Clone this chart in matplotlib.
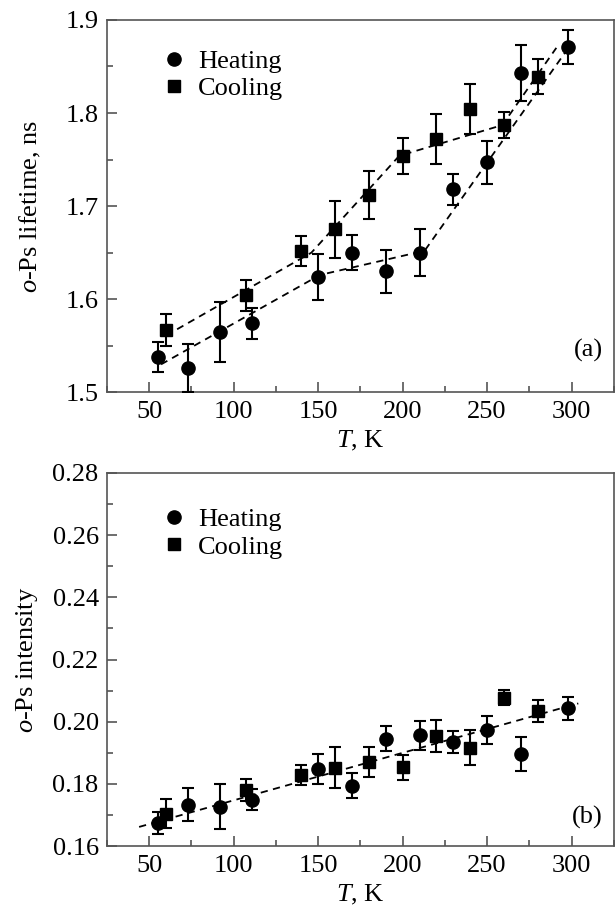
import numpy as np
import matplotlib
matplotlib.use('Agg')
import matplotlib.pyplot as plt
from matplotlib.ticker import MultipleLocator, FormatStrFormatter
from matplotlib.lines import Line2D

plt.rcParams['font.family'] = ['Liberation Serif', 'DejaVu Serif']
plt.rcParams['mathtext.fontset'] = 'custom'
plt.rcParams['mathtext.rm'] = 'Liberation Serif'
plt.rcParams['mathtext.it'] = 'Liberation Serif:italic'
plt.rcParams['font.size'] = 19

# temperatures, K
T_heat = [55, 73, 92, 111, 150, 170, 190, 210, 230, 250, 270, 298]
T_cool = [60, 107, 140, 160, 180, 200, 220, 240, 260, 280]

# (a) o-Ps lifetime, ns
tau_heat = [1.538, 1.526, 1.565, 1.574, 1.624, 1.650, 1.630, 1.650, 1.718, 1.747, 1.843, 1.871]
tau_heat_err = [0.016, 0.026, 0.032, 0.017, 0.025, 0.019, 0.023, 0.025, 0.017, 0.023, 0.030, 0.018]
tau_cool = [1.567, 1.604, 1.652, 1.675, 1.712, 1.754, 1.772, 1.804, 1.787, 1.839]
tau_cool_err = [0.017, 0.017, 0.016, 0.031, 0.026, 0.019, 0.027, 0.027, 0.014, 0.019]

# dashed guide lines in (a)
fit_heat_T = [57, 151, 213, 297]
fit_heat_tau = [1.530, 1.626, 1.652, 1.867]
fit_cool_T = [60, 146, 198, 259, 291]
fit_cool_tau = [1.561, 1.650, 1.754, 1.787, 1.870]

# (b) o-Ps intensity
I_heat = [0.1675, 0.1734, 0.1727, 0.1750, 0.1849, 0.1794, 0.1945, 0.1956, 0.1935, 0.1975, 0.1897, 0.2043]
I_heat_err = [0.0036, 0.0054, 0.0072, 0.0035, 0.0048, 0.0040, 0.0040, 0.0047, 0.0035, 0.0045, 0.0054, 0.0036]
I_cool = [0.1705, 0.1780, 0.1828, 0.1853, 0.1871, 0.1854, 0.1955, 0.1916, 0.2078, 0.2035]
I_cool_err = [0.0046, 0.0036, 0.0032, 0.0065, 0.0047, 0.0040, 0.0052, 0.0056, 0.0025, 0.0036]

fit_I_T = [44, 304]
fit_I = [0.1662, 0.2059]


def style_axes(ax, ymajor, yminor):
    ax.set_xlim(25, 325)
    ax.xaxis.set_major_locator(MultipleLocator(50))
    ax.xaxis.set_minor_locator(MultipleLocator(25))
    ax.yaxis.set_major_locator(MultipleLocator(ymajor))
    ax.yaxis.set_minor_locator(MultipleLocator(yminor))
    ax.tick_params(which='both', direction='in', top=False, right=False,
                   color='#555555', width=1.2)
    ax.tick_params(which='major', length=7, pad=6)
    ax.tick_params(which='minor', length=4.5)
    for s in ax.spines.values():
        s.set_color('#555555')
        s.set_linewidth(1.2)
    ax.set_xlabel(r'$T$, K', labelpad=4.5)


def draw_points(ax, T, vals, errs, marker, ms):
    ax.errorbar(T, vals, yerr=errs, fmt='none', ecolor='black',
                elinewidth=1.5, capsize=4.5, capthick=1.5, zorder=3)
    ax.plot(T, vals, marker, color='black', ms=ms, ls='none', zorder=4)


fig = plt.figure(figsize=(6.15, 9.06), dpi=100)
ax1 = fig.add_axes([0.174, 0.567, 0.824, 0.411])
ax2 = fig.add_axes([0.174, 0.066, 0.824, 0.412])

# panel (a)
ax1.plot(fit_heat_T, fit_heat_tau, color='black', ls=(0, (4, 3)), lw=1.3, zorder=2)
ax1.plot(fit_cool_T, fit_cool_tau, color='black', ls=(0, (4, 3)), lw=1.3, zorder=2)
draw_points(ax1, T_heat, tau_heat, tau_heat_err, 'o', 9.5)
draw_points(ax1, T_cool, tau_cool, tau_cool_err, 's', 8.5)
ax1.set_ylim(1.5, 1.9)
style_axes(ax1, 0.1, 0.05)
ax1.yaxis.set_major_formatter(FormatStrFormatter('%.1f'))
ax1.set_ylabel(r'$o$-Ps lifetime, ns', labelpad=16)
ax1.text(0.978, 0.113, '(a)', transform=ax1.transAxes, ha='right', va='center')

# panel (b)
ax2.plot(fit_I_T, fit_I, color='black', ls=(0, (4, 3)), lw=1.3, zorder=2)
draw_points(ax2, T_heat, I_heat, I_heat_err, 'o', 9.5)
draw_points(ax2, T_cool, I_cool, I_cool_err, 's', 8.5)
ax2.set_ylim(0.16, 0.28)
style_axes(ax2, 0.02, 0.01)
ax2.yaxis.set_major_formatter(FormatStrFormatter('%.2f'))
ax2.set_ylabel(r'$o$-Ps intensity', labelpad=9)
ax2.text(0.978, 0.078, '(b)', transform=ax2.transAxes, ha='right', va='center')

handles = [Line2D([], [], marker='o', color='black', ls='none', ms=9.5),
           Line2D([], [], marker='s', color='black', ls='none', ms=8.5)]
for ax, ytop in ((ax1, 0.949), (ax2, 0.935)):
    ax.legend(handles, ['Heating', 'Cooling'], loc='upper left',
              bbox_to_anchor=(0.086, ytop), frameon=False, handlelength=1.0,
              handletextpad=0.4, labelspacing=0.15, borderaxespad=0)

fig.savefig('out.png', dpi=100)
